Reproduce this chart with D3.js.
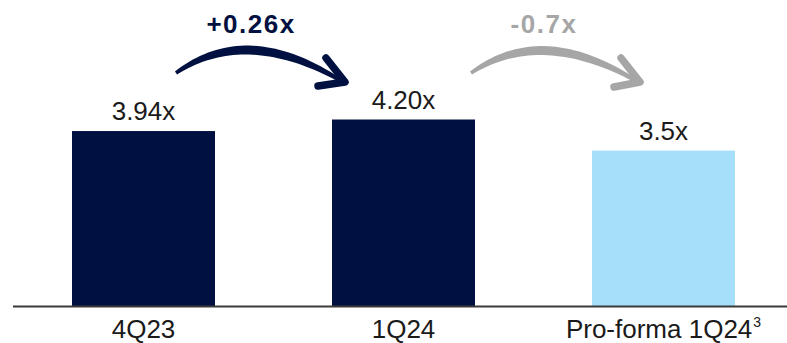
<!DOCTYPE html>
<html>
<head>
<meta charset="utf-8">
<script src="https://cdn.jsdelivr.net/npm/d3@7"></script>
<style>
  html, body { margin: 0; padding: 0; background: #ffffff; }
  svg { display: block; font-family: "Liberation Sans", Arial, Helvetica, sans-serif; }
</style>
</head>
<body>
<svg id="chart" width="787" height="343"></svg>
<script>
// Leverage ratio by period
const categories = ["4Q23", "1Q24", "Pro-forma 1Q24"];
const values = [3.94, 4.20, 3.5];
const valueLabels = ["3.94x", "4.20x", "3.5x"];
const barColors = ["#001040", "#001040", "#a6dff9"];

// Change annotations between consecutive bars
const changeLabels = ["+0.26x", "-0.7x"];
const changeColors = ["#001040", "#a6a6a6"];

const width = 787, height = 343;
const baseline = 306;

const svg = d3.select("#chart");

const x = d3.scaleBand()
  .domain(categories)
  .range([13.5, 793.5])
  .paddingInner(0.45)
  .paddingOuter(0.225);

const y = d3.scaleLinear()
  .domain([0, 4.2])
  .range([baseline, baseline - 186.5]);

// Bars
svg.selectAll("rect.bar")
  .data(categories)
  .join("rect")
  .attr("class", "bar")
  .attr("x", d => x(d))
  .attr("width", x.bandwidth())
  .attr("y", (d, i) => y(values[i]))
  .attr("height", (d, i) => y(0) - y(values[i]))
  .attr("fill", (d, i) => barColors[i]);

// Value labels above bars
svg.selectAll("text.value")
  .data(categories)
  .join("text")
  .attr("class", "value")
  .attr("x", d => x(d) + x.bandwidth() / 2)
  .attr("y", (d, i) => y(values[i]) - 11)
  .attr("text-anchor", "middle")
  .attr("font-size", 26)
  .attr("fill", "#1a1a1a")
  .text((d, i) => valueLabels[i]);

// Baseline axis
const axis = svg.append("g")
  .attr("transform", `translate(0,${baseline})`)
  .call(d3.axisBottom(x).tickSize(0).tickPadding(14).tickFormat(() => ""));
axis.select(".domain")
  .attr("d", `M13,0.5H787`)
  .attr("stroke", "#3a3a3a")
  .attr("stroke-width", 2);

// Category labels (last one carries a footnote marker)
axis.selectAll(".tick").each(function (d, i) {
  const t = d3.select(this).append("text")
    .attr("y", 32)
    .attr("text-anchor", "middle")
    .attr("font-size", 26)
    .attr("fill", "#1a1a1a")
    .text(d);
  if (i === categories.length - 1) {
    t.append("tspan")
      .attr("font-size", 14)
      .attr("dx", 1)
      .attr("dy", -11)
      .text("3");
  }
});

// Curved brush-style arrows between bars
function arrowShape(p0, c, p2, maxW) {
  const n = 40;
  const pts = [];
  for (let k = 0; k <= n; k++) {
    const t = k / n;
    const px = (1 - t) * (1 - t) * p0[0] + 2 * (1 - t) * t * c[0] + t * t * p2[0];
    const py = (1 - t) * (1 - t) * p0[1] + 2 * (1 - t) * t * c[1] + t * t * p2[1];
    const dx = 2 * (1 - t) * (c[0] - p0[0]) + 2 * t * (p2[0] - c[0]);
    const dy = 2 * (1 - t) * (c[1] - p0[1]) + 2 * t * (p2[1] - c[1]);
    const len = Math.hypot(dx, dy);
    const w = maxW * (0.3 + 0.7 * Math.sin(Math.PI * Math.min(1, t * 0.9 + 0.05))) / 2;
    pts.push({ px, py, nx: -dy / len, ny: dx / len, w });
  }
  const left = pts.map(p => [p.px + p.nx * p.w, p.py + p.ny * p.w]);
  const right = pts.map(p => [p.px - p.nx * p.w, p.py - p.ny * p.w]).reverse();
  return "M" + left.concat(right).map(p => p.join(",")).join("L") + "Z";
}

const arrows = [
  { p0: [176, 73], c: [247, 23], p2: [343, 82], label: [251, 33], head: [[326, 58], [318, 86]] },
  { p0: [471, 73], c: [542, 24], p2: [638, 82], label: [544, 33], head: [[621, 58], [614, 87]] }
];

arrows.forEach((a, i) => {
  const g = svg.append("g");
  g.append("path")
    .attr("d", arrowShape(a.p0, a.c, a.p2, 9))
    .attr("fill", changeColors[i]);
  g.append("path")
    .attr("d", `M${a.head[0][0]},${a.head[0][1]}L${a.p2[0] + 2},${a.p2[1]}L${a.head[1][0]},${a.head[1][1]}`)
    .attr("fill", "none")
    .attr("stroke", changeColors[i])
    .attr("stroke-width", 7.5)
    .attr("stroke-linecap", "round")
    .attr("stroke-linejoin", "round");
  g.append("text")
    .attr("x", a.label[0])
    .attr("y", a.label[1])
    .attr("text-anchor", "middle")
    .attr("font-size", 26)
    .attr("font-weight", "bold")
    .attr("letter-spacing", 1.5)
    .attr("fill", changeColors[i])
    .text(changeLabels[i]);
});
</script>
</body>
</html>
